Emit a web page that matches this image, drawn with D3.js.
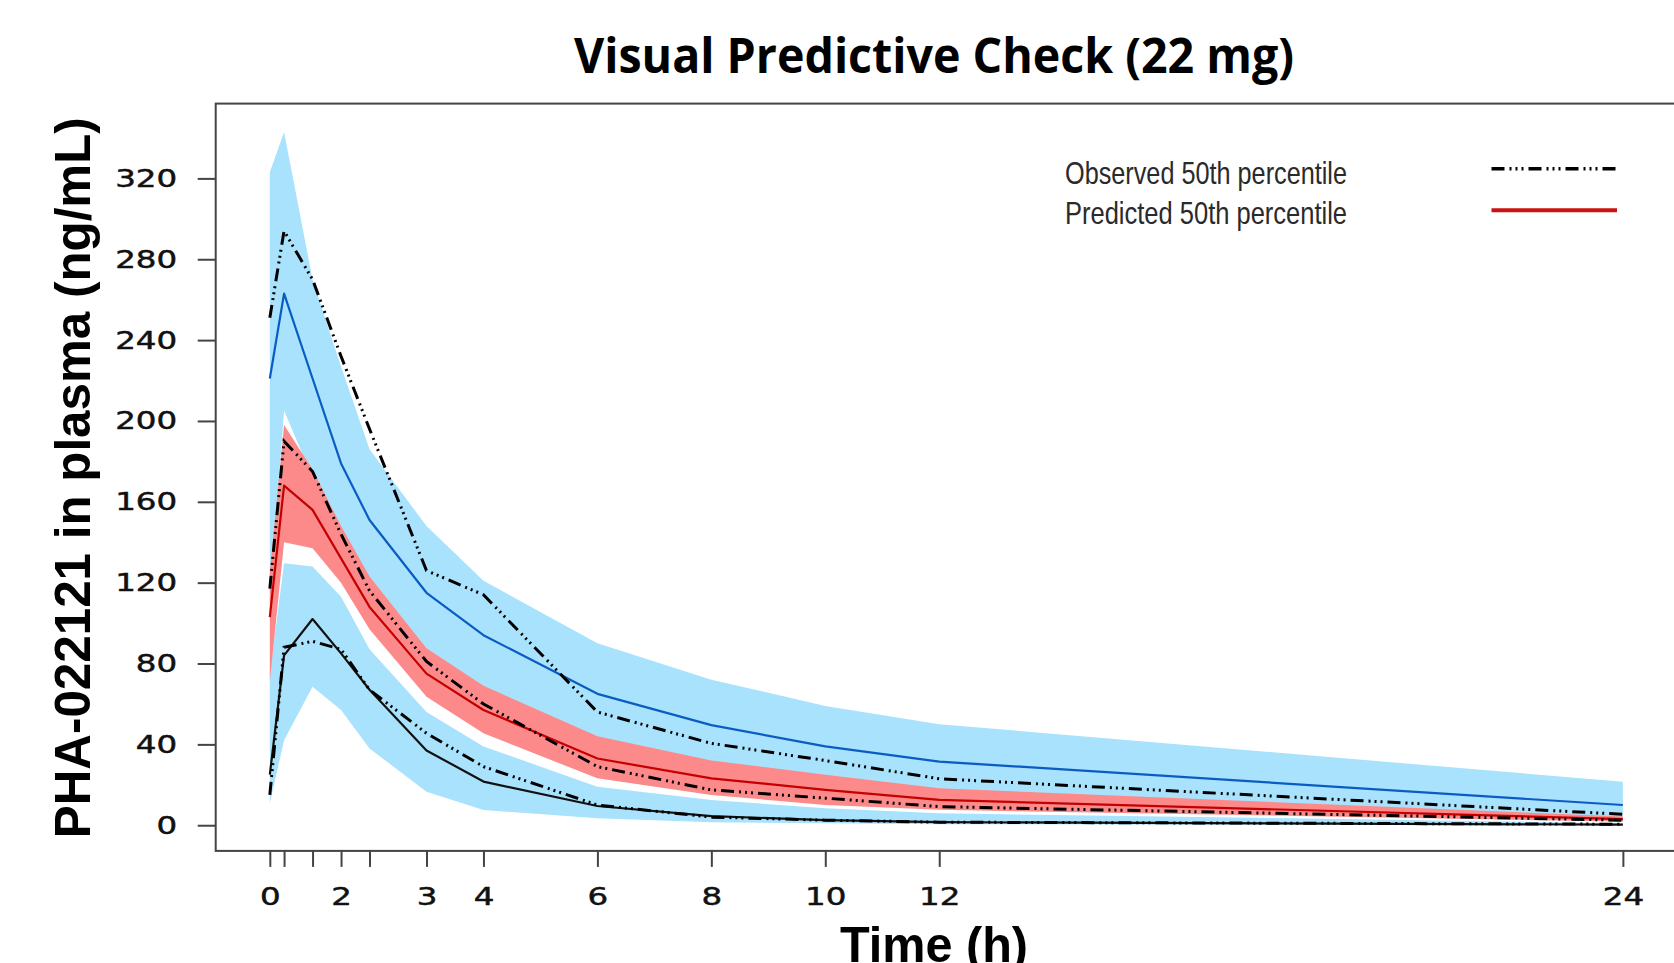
<!DOCTYPE html>
<html>
<head>
<meta charset="utf-8">
<script src="https://cdn.jsdelivr.net/npm/d3@7"></script>
<style>
    html, body { margin: 0; padding: 0; background: #fff; overflow: hidden; }
    svg { display: block; }
</style>
</head>
<body>
<svg id="vpcPane" width="1674" height="963"></svg>
<script>

// nominal sampling times (h) and the labels printed under the ticks
var times = [0.25, 0.5, 1, 1.5, 2, 3, 4, 6, 8, 10, 12, 24];
var xTickLabels = ["0", "", "", "2", "", "3", "4", "6", "8", "10", "12", "24"];
var yTicks = [0, 40, 80, 120, 160, 200, 240, 280, 320];

// 95th percentile: prediction band, predicted and observed
var piHiUpper = [323, 343, 270, 227, 186, 148, 121, 90, 72, 59, 50, 21.5];
var piHiLower = [110, 205, 172, 146, 121, 86, 67, 42, 30, 23.5, 17, 4];
var predHi    = [221, 263, 221, 179, 151, 115, 94, 65, 49.5, 39, 31.5, 10];
var obsHi     = [251, 294, 270, 232, 196, 126, 114, 56, 40.5, 32, 23, 5.4];

// 50th percentile
var ciMedUpper = [125, 198, 176, 148, 123, 87.5, 69, 44, 32, 25, 18.3, 4.3];
var ciMedLower = [71, 140, 137, 120, 97, 63.6, 45.5, 23.2, 15, 10, 7.6, 1.8];
var predMed    = [103, 168, 156, 132, 108, 75, 57, 33, 23.2, 17.5, 12.5, 3];
var obsMed     = [117, 190, 175, 144, 116, 81, 60, 29, 17.5, 13.4, 9.2, 2.5];

// 5th percentile
var ciLoUpper = [75, 129.6, 128, 113, 87, 56, 39, 19, 12.5, 8.4, 5.9, 1];
var ciLoLower = [10.9, 42, 68.5, 57, 38, 16.6, 7.5, 3.5, 1.5, 1, 0.5, 0];
var predLo    = [25, 84, 102, 85, 67, 37, 21.6, 9.5, 4.5, 2.5, 1.5, 0.3];
var obsLo     = [15, 88, 91, 87, 67, 45.5, 29, 10, 4, 2.5, 1.5, 0.5];

var legendLabels = ["Observed 50th percentile", "Predicted 50th percentile"];

var bandBlue = "#a9e2fc";
var bandRed = "#fc8a8a";
var obsDash = "13,5,2,4,2,4,2,5";

var svg = d3.select("#vpcPane");

var frame = {left: 215.7, right: 1677, top: 103.6, bottom: 850.9};

var x = d3.scaleLinear()
    .domain([-0.7, 24.95])
    .range([frame.left, frame.right]);

var y = d3.scaleLinear()
    .domain([-12.7, 357])
    .range([frame.bottom, frame.top]);

var band = function (lower, upper) {
    return d3.area()
        .x(function(d, i){return x(times[i]);})
        .y0(function(d, i){return y(lower[i]);})
        .y1(function(d, i){return y(upper[i]);})(times);
};

var line = function (values) {
    return d3.line()
        .x(function(d, i){return x(times[i]);})
        .y(function(d){return y(d);})(values);
};

// bands
svg.append("path").attr("d", band(piHiLower, piHiUpper)).attr("fill", bandBlue);
svg.append("path").attr("d", band(ciLoLower, ciLoUpper)).attr("fill", bandBlue);
svg.append("path").attr("d", band(ciMedLower, ciMedUpper)).attr("fill", bandRed);

// predicted lines
var predLines = [
    {values: predHi, color: "#0b5cc2"},
    {values: predMed, color: "#c40000"},
    {values: predLo, color: "#111"}
];
predLines.forEach(function (p) {
    svg.append("path")
        .attr("d", line(p.values))
        .attr("fill", "none")
        .attr("stroke", p.color)
        .attr("stroke-width", 2.2)
        .attr("stroke-linejoin", "round");
});

// observed lines
[obsHi, obsMed, obsLo].forEach(function (values) {
    svg.append("path")
        .attr("d", line(values))
        .attr("fill", "none")
        .attr("stroke", "#000")
        .attr("stroke-width", 3)
        .attr("stroke-dasharray", obsDash);
});

// frame (right side falls outside the picture)
svg.append("rect")
    .attr("x", frame.left)
    .attr("y", frame.top)
    .attr("width", frame.right - frame.left)
    .attr("height", frame.bottom - frame.top)
    .attr("fill", "none")
    .attr("stroke", "#444")
    .attr("stroke-width", 2);

// axes
var yAxis = svg.append("g")
    .attr("transform", "translate(" + frame.left + ",0)")
    .call(d3.axisLeft(y).tickValues(yTicks).tickSize(18).tickPadding(11.6).tickSizeOuter(0));

var xAxis = svg.append("g")
    .attr("transform", "translate(0," + frame.bottom + ")")
    .call(d3.axisBottom(x).tickValues(times).tickSize(16).tickPadding(0).tickSizeOuter(0)
        .tickFormat(function(d, i){return xTickLabels[i];}));

[yAxis, xAxis].forEach(function (ax) {
    ax.select(".domain").remove();
    ax.selectAll(".tick line").attr("stroke", "#444").attr("stroke-width", 2);
    ax.selectAll(".tick text")
        .attr("fill", "#111")
        .attr("stroke", "#111")
        .attr("stroke-width", 0.5)
        .style("font-family", "'DejaVu Sans', Verdana, sans-serif")
        .style("font-size", "25px");
});

yAxis.selectAll(".tick text")
    .attr("transform", "scale(1.3,1)");

xAxis.selectAll(".tick text")
    .attr("y", 0)
    .attr("dy", 0)
    .attr("transform", "translate(0,54) scale(1.3,1)");

// titles
svg.append("text")
    .attr("x", 934)
    .attr("y", 72.6)
    .attr("text-anchor", "middle")
    .attr("textLength", 720)
    .attr("lengthAdjust", "spacingAndGlyphs")
    .style("font-family", "'Open Sans', 'Noto Sans', sans-serif")
    .style("font-weight", "bold")
    .style("font-size", "48px")
    .text("Visual Predictive Check (22 mg)");

svg.append("text")
    .attr("transform", "translate(89.7,477.7) rotate(-90)")
    .attr("text-anchor", "middle")
    .attr("textLength", 721)
    .attr("lengthAdjust", "spacingAndGlyphs")
    .style("font-family", "'Liberation Sans Narrow', 'Arial Narrow', 'Liberation Sans', sans-serif")
    .style("font-weight", "bold")
    .style("font-size", "50px")
    .text("PHA-022121 in plasma (ng/mL)");

svg.append("text")
    .attr("x", 934)
    .attr("y", 962)
    .attr("text-anchor", "middle")
    .attr("textLength", 188)
    .attr("lengthAdjust", "spacingAndGlyphs")
    .style("font-family", "'Liberation Sans', Arial, sans-serif")
    .style("font-weight", "bold")
    .style("font-size", "50px")
    .text("Time (h)");

// legend
var legend = svg.append("g");
var legendRows = [
    {y: 183.6, lineY: 168.7, stroke: "#000", width: 3.6, dash: obsDash},
    {y: 224, lineY: 210.3, stroke: "#cc1111", width: 4, dash: null}
];
legendRows.forEach(function (r, i) {
    legend.append("text")
        .attr("x", 1065)
        .attr("y", r.y)
        .attr("textLength", 282)
        .attr("lengthAdjust", "spacingAndGlyphs")
        .attr("fill", "#2a2a2a")
        .style("font-family", "'Liberation Sans Narrow', 'Arial Narrow', 'Liberation Sans', sans-serif")
        .style("font-size", "32px")
        .text(legendLabels[i]);
    legend.append("line")
        .attr("x1", 1491.5)
        .attr("x2", 1617)
        .attr("y1", r.lineY)
        .attr("y2", r.lineY)
        .attr("stroke", r.stroke)
        .attr("stroke-width", r.width)
        .attr("stroke-dasharray", r.dash);
});

</script>
</body>
</html>
